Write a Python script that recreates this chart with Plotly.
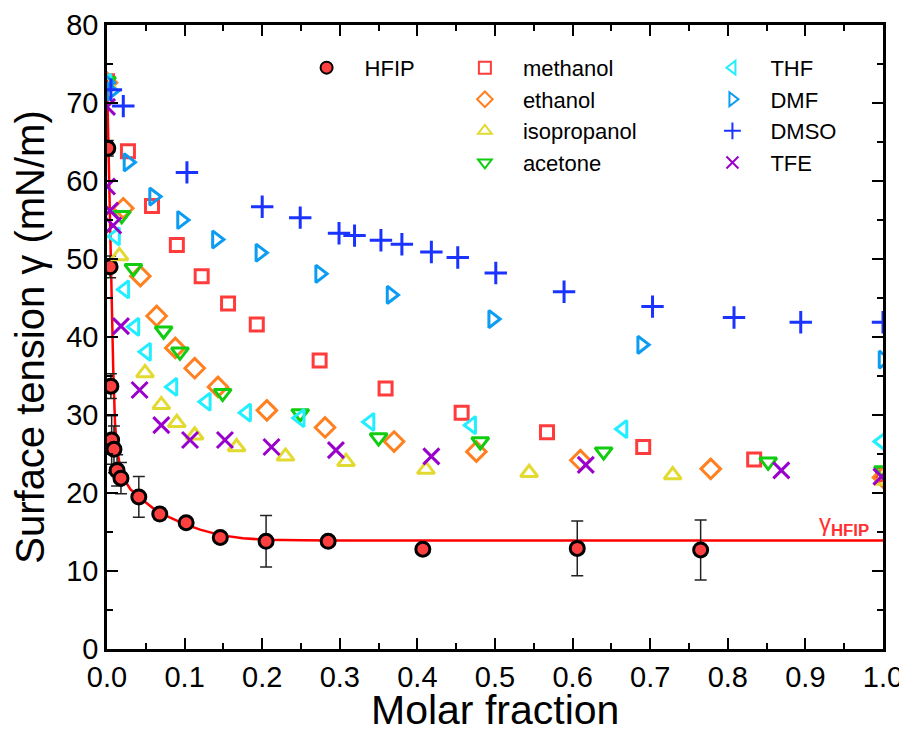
import plotly.graph_objects as go

# HFIP (filled circles with error bars) and its fitted curve
hfip_x = [0.001, 0.004, 0.005, 0.006, 0.009, 0.013, 0.018, 0.041, 0.068, 0.102, 0.146, 0.205, 0.285, 0.407, 0.606, 0.765]
hfip_y = [64.2, 49.0, 33.7, 26.8, 25.6, 22.9, 21.9, 19.5, 17.3, 16.2, 14.3, 13.8, 13.8, 12.8, 12.9, 12.7]
hfip_err = [1.0, 1.4, 1.6, 3.1, 3.0, 2.0, 2.0, 2.6, 0.7, 0.5, 0.4, 3.3, 0.3, 0.4, 3.5, 3.85]

fit_x = [0.0, 0.001, 0.002, 0.003, 0.004, 0.005, 0.006, 0.008, 0.0103, 0.013, 0.019, 0.03, 0.041,
         0.06, 0.08, 0.1, 0.12, 0.146, 0.175, 0.205, 0.25, 0.3, 1.0]
fit_y = [73.0, 68.0, 62.0, 57.0, 52.0, 49.0, 45.0, 36.0, 29.0, 25.5, 22.3, 20.5, 19.5,
         18.0, 16.9, 16.0, 15.3, 14.6, 14.2, 14.0, 13.95, 13.9, 13.9]

methanol_x = [0.0, 0.027, 0.058, 0.09, 0.122, 0.156, 0.193, 0.274, 0.359, 0.457, 0.567, 0.691, 0.834, 1.0]
methanol_y = [72.8, 63.8, 56.8, 51.8, 47.8, 44.3, 41.6, 37.0, 33.4, 30.3, 27.8, 25.9, 24.3, 22.4]

ethanol_x = [0.0, 0.021, 0.043, 0.064, 0.088, 0.113, 0.143, 0.206, 0.281, 0.37, 0.476, 0.61, 0.778, 1.0]
ethanol_y = [72.6, 56.5, 47.8, 42.7, 38.6, 36.0, 33.6, 30.6, 28.4, 26.6, 25.3, 24.2, 23.1, 22.0]

isopropanol_x = [0.0, 0.016, 0.049, 0.07, 0.09, 0.113, 0.167, 0.23, 0.308, 0.411, 0.544, 0.729, 1.0]
isopropanol_y = [72.4, 50.4, 35.4, 31.3, 29.0, 27.4, 25.9, 24.7, 24.0, 23.0, 22.6, 22.3, 21.6]

acetone_x = [0.0, 0.019, 0.034, 0.073, 0.094, 0.149, 0.249, 0.35, 0.481, 0.64, 0.852, 1.0]
acetone_y = [72.8, 55.6, 48.8, 40.8, 38.1, 32.8, 30.2, 27.1, 26.6, 25.3, 24.0, 22.9]

thf_x = [0.0, 0.011, 0.023, 0.036, 0.051, 0.085, 0.128, 0.18, 0.249, 0.339, 0.47, 0.665, 0.998]
thf_y = [72.6, 52.9, 46.1, 41.3, 38.1, 33.6, 31.7, 30.3, 29.6, 29.1, 28.7, 28.2, 26.6]

dmf_x = [0.0, 0.005, 0.027, 0.06, 0.096, 0.141, 0.197, 0.274, 0.366, 0.497, 0.689, 1.0]
dmf_y = [72.6, 71.5, 62.4, 58.0, 55.0, 52.5, 50.8, 48.1, 45.4, 42.3, 39.0, 37.1]

dmso_x = [0.005, 0.021, 0.103, 0.2, 0.249, 0.299, 0.319, 0.353, 0.38, 0.418, 0.452, 0.501, 0.589, 0.703, 0.808, 0.894, 1.0]
dmso_y = [71.7, 69.6, 61.1, 56.7, 55.3, 53.3, 53.0, 52.4, 51.9, 50.9, 50.2, 48.2, 45.8, 43.9, 42.5, 41.9, 41.9]

tfe_x = [0.0, 0.0, 0.004, 0.008, 0.018, 0.042, 0.07, 0.107, 0.152, 0.212, 0.295, 0.418, 0.617, 0.869, 0.998]
tfe_y = [69.5, 59.3, 56.2, 54.3, 41.4, 33.2, 28.7, 26.8, 26.8, 25.9, 25.5, 24.7, 23.6, 22.9, 22.1]

FONT = "Arial, Liberation Sans, sans-serif"

fig = go.Figure()

fig.add_trace(go.Scatter(x=fit_x, y=fit_y, mode="lines", line=dict(color="#ff0000", width=2.5),
                         showlegend=False, hoverinfo="skip"))

fig.add_trace(go.Scatter(
    x=hfip_x, y=hfip_y, mode="markers", name="HFIP", legend="legend",
    error_y=dict(type="data", array=hfip_err, color="#222222", thickness=1.5, width=6),
    marker=dict(symbol="circle", size=14, color="#ff4040", line=dict(color="black", width=3))))

series = [
    ("methanol", methanol_x, methanol_y, "square-open", "#ff3b3b", 13, "legend2"),
    ("ethanol", ethanol_x, ethanol_y, "diamond-open", "#ff8020", 15, "legend2"),
    ("isopropanol", isopropanol_x, isopropanol_y, "triangle-up-open", "#e2da30", 15, "legend2"),
    ("acetone", acetone_x, acetone_y, "triangle-down-open", "#11cc11", 15, "legend2"),
    ("THF", thf_x, thf_y, "triangle-left-open", "#22eeff", 15, "legend3"),
    ("DMF", dmf_x, dmf_y, "triangle-right-open", "#0c9cf2", 15, "legend3"),
    ("DMSO", dmso_x, dmso_y, "cross-thin", "#1a33ff", 16, "legend3"),
    ("TFE", tfe_x, tfe_y, "x-thin", "#9900cc", 16, "legend3"),
]
for name, xs, ys, sym, col, sz, leg in series:
    fig.add_trace(go.Scatter(
        x=xs, y=ys, mode="markers", name=name, legend=leg,
        marker=dict(symbol=sym, size=sz, color=col, line=dict(color=col, width=3))))

fig.add_annotation(x=0.985, y=15.9, xref="x", yref="y", xanchor="right", yanchor="middle",
                   text="γ<sub><b>HFIP</b></sub>", showarrow=False,
                   font=dict(family=FONT, size=24, color="#ff3030"))

# x title as an annotation so it can sit closer to the tick labels
fig.add_annotation(x=0.5, y=-0.097, xref="paper", yref="paper", xanchor="center", yanchor="middle",
                   text="Molar fraction", showarrow=False,
                   font=dict(family=FONT, size=41, color="black"))

axis_common = dict(showline=True, linecolor="black", linewidth=2.5, mirror="allticks",
                   ticks="inside", ticklen=11, tickwidth=2, tickcolor="black",
                   showgrid=False, zeroline=False, automargin=False, ticklabeloverflow="allow",
                   tickfont=dict(family=FONT, size=29, color="black"))

leg_style = dict(font=dict(family=FONT, size=22, color="black"), bgcolor="rgba(0,0,0,0)",
                 yanchor="top", xanchor="left", tracegroupgap=0, itemsizing="constant",
                 itemwidth=66)

# the page body adds an 8px offset, so the figure is 8px smaller to stay inside the window
fig.update_layout(
    width=899, height=744,
    margin=dict(l=99, r=24, t=17, b=103, autoexpand=False),
    plot_bgcolor="white", paper_bgcolor="white",
    xaxis=dict(range=[0, 1], dtick=0.1, tickformat=".1f",
               minor=dict(dtick=0.05, ticks="inside", ticklen=6, tickwidth=2, tickcolor="black"),
               **axis_common),
    yaxis=dict(range=[0, 80], dtick=10,
               minor=dict(dtick=5, ticks="inside", ticklen=6, tickwidth=2, tickcolor="black"),
               title=dict(text="Surface tension γ (mN/m)", font=dict(family=FONT, size=40, color="black"), standoff=12),
               **axis_common),
    legend=dict(x=0.234, y=0.965, **leg_style),
    legend2=dict(x=0.438, y=0.965, **leg_style),
    legend3=dict(x=0.757, y=0.965, **leg_style),
)

fig.write_html("out.html")
